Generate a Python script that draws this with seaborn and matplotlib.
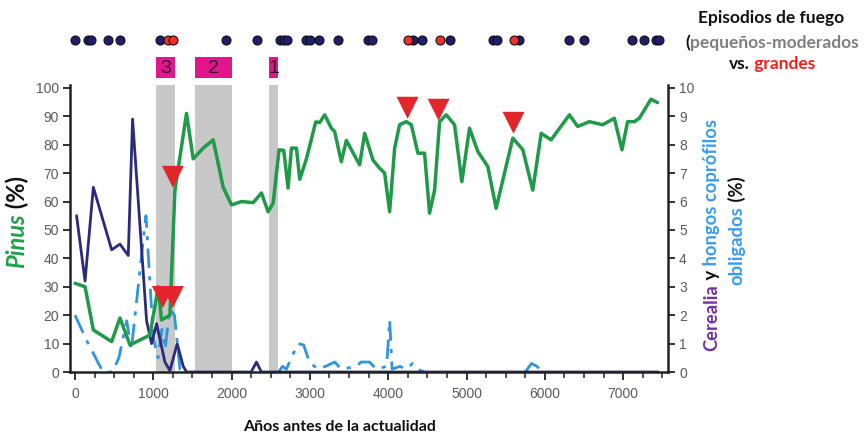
import numpy as np
import pandas as pd
import matplotlib
matplotlib.use("Agg")
import matplotlib.pyplot as plt
from matplotlib.ticker import MultipleLocator
import seaborn as sns

# ---------------- data ----------------
pinus_years = [0, 128, 234, 468, 574, 702, 957, 1063, 1105, 1212, 1276, 1424, 1509, 1637, 1765, 1892,
               1999, 2126, 2275, 2381, 2466, 2530, 2606, 2666, 2721, 2764, 2828, 2870, 2955, 3074,
               3125, 3189, 3274, 3316, 3401, 3465, 3635, 3699, 3805, 3890, 3954, 4018, 4082, 4145,
               4231, 4295, 4379, 4464, 4528, 4592, 4656, 4741, 4847, 4940, 5038, 5144, 5272, 5378,
               5591, 5719, 5846, 5953, 6080, 6314, 6420, 6569, 6739, 6888, 6985, 7057, 7143, 7207,
               7355, 7440]
pinus_pct = [31.2, 30, 14.8, 10.7, 19, 9.5, 13, 30, 18.3, 20, 64, 91, 75, 78.8, 81.7, 65,
             58.8, 60, 59.6, 63, 56.4, 59.4, 78.2, 78, 64.7, 78.8, 78.8, 67.8, 75, 88,
             87.8, 90.5, 85.8, 84.6, 74, 81.5, 72.9, 84, 74.6, 71.7, 70, 56.4, 78.8, 87,
             88.1, 87, 77, 77, 55.9, 64, 88.1, 90.5, 87, 67, 85.8, 77.6, 72.3, 57.6,
             82.3, 78.2, 64, 84, 81.7, 90.5, 86.4, 88.1, 87, 89.3, 78.2, 88.1, 88.1, 89.3,
             96, 94.8]

cerealia_years = [20, 128, 234, 468, 574, 680, 735, 914, 978, 1042, 1148, 1212, 1305, 1382, 1424,
                  2250, 2317, 2380, 7450]
cerealia_pct = [5.5, 3.2, 6.5, 4.3, 4.5, 4.1, 8.9, 1.8, 1.0, 1.7, 0.35, 0.05, 1.0, 0.2, 0,
                0, 0.35, 0, 0]

# obligate coprophilous fungi, recorded in three separate episodes
hongos_episode = [1] * 19 + [2] * 25 + [3] * 4
hongos_years = [0, 150, 300, 360, 480, 560, 660, 720, 830, 906, 960, 1000, 1060, 1110, 1150, 1210,
                1270, 1340, 1400,
                2600, 2650, 2700, 2780, 2850, 2920, 3000, 3036, 3100, 3200, 3316, 3400, 3500, 3600,
                3650, 3760, 3850, 3980, 4018, 4050, 4150, 4230, 4311, 4380, 4450,
                5750, 5830, 5900, 5960]
hongos_pct = [2.0, 1.1, 0.3, 0, 0, 0.5, 1.8, 0.8, 3.6, 5.5, 3.0, 1.2, 0.5, 1.5, 0.8, 2.2,
              2.0, 0.1, 0,
              0, 0.2, 0.1, 0.6, 1.0, 0.95, 0.3, 0.25, 0.1, 0.2, 0.35, 0.1, 0.15, 0.2,
              0.35, 0.35, 0.1, 0.2, 1.83, 0.1, 0.2, 0.1, 0.3, 0.1, 0,
              0, 0.3, 0.2, 0]

fire_small_years = [0, 166, 204, 421, 574, 1084, 1926, 2321, 2615, 2666, 2704, 2946, 2997, 3112,
                    3355, 3737, 3788, 4311, 4426, 4783, 5332, 5383, 5676, 6314, 6505, 7117, 7270,
                    7423, 7462]
fire_large_years = [1186, 1250, 4247, 4656, 5600]

large_fire_years = [1122, 1250, 1250, 4247, 4643, 5600]
large_fire_pinus = [26.4, 26.4, 68.7, 93.0, 92.3, 87.7]

phase_labels = ["3", "2", "1"]
phase_start = [1030, 1530, 2480]
phase_end = [1275, 2000, 2590]

x_ticks = [0, 1000, 2000, 3000, 4000, 5000, 6000, 7000]
left_ticks = [0, 10, 20, 30, 40, 50, 60, 70, 80, 90, 100]
right_ticks = [0, 1, 2, 3, 4, 5, 6, 7, 8, 9, 10]

hongos_df = pd.DataFrame({"year": hongos_years, "pct": hongos_pct, "episode": hongos_episode})

# ---------------- style ----------------
sns.set_theme(style="ticks")
plt.rcParams['font.family'] = ['Liberation Sans', 'DejaVu Sans']
LABEL_FONT = ['Lato', 'DejaVu Sans']

W, H = 868, 442
fig = plt.figure(figsize=(W / 100, H / 100), dpi=100)
fig.patch.set_facecolor('white')


def fx(px):
    return px / W


def fy(py):
    return 1 - py / H


ax = fig.add_axes([fx(70), fy(372), fx(668) - fx(70), fy(85) - fy(372)])
ax2 = ax.twinx()
ax.set_zorder(ax2.get_zorder() + 1)
ax.patch.set_visible(False)

GREEN = '#1F9A48'
NAVY = '#2B2A7C'
LBLUE = '#2F95DC'
RED = '#E3262B'
GRAY_BAND = '#C8C8C8'
MAGENTA = '#E0168A'

for s, e in zip(phase_start, phase_end):
    ax2.axvspan(s, e, color=GRAY_BAND, lw=0, zorder=0)

sns.lineplot(data=hongos_df, x="year", y="pct", units="episode", estimator=None, ax=ax2,
             color=LBLUE, lw=2, linestyle=(0, (7, 3, 1.5, 3)), zorder=2)
sns.lineplot(x=cerealia_years, y=cerealia_pct, ax=ax2, color=NAVY, lw=2, zorder=3)
sns.lineplot(x=pinus_years, y=pinus_pct, ax=ax, color=GREEN, lw=2.5, zorder=3)
sns.scatterplot(x=large_fire_years, y=large_fire_pinus, ax=ax, marker='v', s=250,
                color=RED, edgecolor='none', zorder=5)

ax.set_xlim(-64, 7573)
ax.set_ylim(0, 101)
ax2.set_ylim(0, 10.1)

ax.set_xticks(x_ticks)
ax.xaxis.set_minor_locator(MultipleLocator(250))
ax.set_yticks(left_ticks)
ax2.set_yticks(right_ticks)

TICKCOL = '#5A5A5A'
ax.tick_params(axis='x', which='major', direction='out', length=6, width=1.3, color='#222222',
               labelsize=10, labelcolor=TICKCOL, pad=5, bottom=True)
ax.tick_params(axis='x', which='minor', direction='out', length=4, width=1.1, color='#222222',
               bottom=True)
ax.tick_params(axis='y', which='major', direction='out', length=5, width=1.3, color='#222222',
               labelsize=10, labelcolor=TICKCOL, pad=3, left=True)
ax2.tick_params(axis='y', which='major', direction='out', length=5, width=1.3, color='#222222',
                labelsize=10, labelcolor=TICKCOL, pad=3, right=True)

for sp in ['top', 'right']:
    ax.spines[sp].set_visible(False)
for sp in ['top', 'left', 'bottom']:
    ax2.spines[sp].set_visible(False)
for sp in ['left', 'bottom']:
    ax.spines[sp].set_linewidth(1.8)
    ax.spines[sp].set_color('#222222')
ax2.spines['right'].set_linewidth(1.8)
ax2.spines['right'].set_color('#222222')
ax.set_xlabel('')
ax.set_ylabel('')
ax2.set_ylabel('')
if ax2.get_legend() is not None:
    ax2.get_legend().remove()

# ---------------- top strip: fire episodes + phases ----------------
top_y0, top_y1 = 20, 85
ax_top = fig.add_axes([fx(70), fy(top_y1), fx(668) - fx(70), fy(top_y0) - fy(top_y1)], sharex=ax)
ax_top.set_ylim(0, 1)
ax_top.axis('off')
dot_row = (top_y1 - 40) / (top_y1 - top_y0)
sns.scatterplot(x=fire_small_years, y=np.full(len(fire_small_years), dot_row), ax=ax_top,
                marker='o', s=42, color='#1E1E6E', edgecolor='#111111', linewidth=0.8,
                zorder=3, clip_on=False)
sns.scatterplot(x=fire_large_years, y=np.full(len(fire_large_years), dot_row), ax=ax_top,
                marker='o', s=42, color='#F0302A', edgecolor='#111111', linewidth=0.8,
                zorder=4, clip_on=False)
box_lo = (top_y1 - 78) / (top_y1 - top_y0)
box_hi = (top_y1 - 57) / (top_y1 - top_y0)
for lab, s, e in zip(phase_labels, phase_start, phase_end):
    ax_top.axvspan(s, e, ymin=box_lo, ymax=box_hi, color=MAGENTA, lw=0)
    ax_top.text((s + e) / 2, (box_lo + box_hi) / 2 - 0.02, lab, transform=ax_top.get_xaxis_transform(),
                ha='center', va='center', fontsize=14, color='#3A0F2E')
ax_top.set_xlim(-64, 7573)

# ---------------- multi-colour texts ----------------
fig.canvas.draw()
renderer = fig.canvas.get_renderer()


def piece_width(s, **kw):
    t = fig.text(0, 0, s, **kw)
    w = t.get_window_extent(renderer).width
    t.remove()
    return w


def multicolor(pieces, cx, cy, rotation=0, size=12):
    widths = []
    for txt, col, extra in pieces:
        widths.append(piece_width(txt, fontsize=size, fontweight='bold', family=LABEL_FONT, **extra))
    total = sum(widths)
    off = -total / 2
    for (txt, col, extra), w in zip(pieces, widths):
        if rotation == 0:
            x, y = cx + off, cy
        else:
            x, y = cx, cy - off
        fig.text(fx(x), fy(y), txt, color=col, fontsize=size, fontweight='bold', family=LABEL_FONT,
                 rotation=rotation, rotation_mode='anchor', ha='left', va='center', **extra)
        off += w


multicolor([("Episodios de fuego", '#111111', {})], 771, 18, size=12.5)
multicolor([("(", '#111111', {}), ("pequeños-moderados", '#7F7F7F', {})], 772, 43, size=12.5)
multicolor([("vs.", '#111111', {}), (" grandes", '#FF1A1A', {})], 772, 64, size=12.5)

multicolor([("Pinus", '#1FA24A', {'fontstyle': 'italic'}), (" (%)", '#111111', {})], 17, 222,
           rotation=90, size=17)
multicolor([("Cerealia", '#7030A0', {}), (" y", '#111111', {}), (" hongos coprófilos", '#3A9BF0', {})],
           712, 235, rotation=90, size=13.2)
multicolor([("obligados", '#3A9BF0', {}), (" (%)", '#111111', {})], 737, 231, rotation=90, size=13.2)

multicolor([("Años antes de la actualidad", '#111111', {})], 340, 427, size=11.5)

fig.savefig('out.png', dpi=100)
